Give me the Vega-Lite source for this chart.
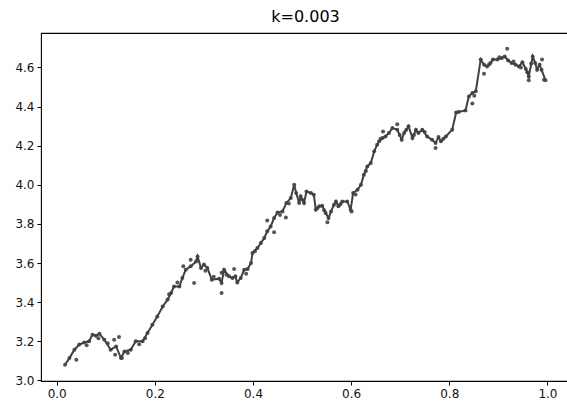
{
  "$schema": "https://vega.github.io/schema/vega-lite/v6.json",
  "autosize": "none",
  "width": 529,
  "height": 348,
  "padding": {"left": 41, "top": 33, "right": 0, "bottom": 24},
  "background": "white",
  "config": {
    "view": {"stroke": "#000000", "strokeWidth": 1.1},
    "font": "DejaVu Sans",
    "axis": {
      "grid": false,
      "domain": false,
      "tickColor": "#000000",
      "tickSize": 4,
      "tickWidth": 1,
      "labelFont": "DejaVu Sans",
      "labelFontSize": 12,
      "labelColor": "#111111",
      "labelPadding": 3,
      "title": null
    }
  },
  "title": {
    "text": "k=0.003",
    "font": "DejaVu Sans",
    "fontSize": 16,
    "fontWeight": "normal",
    "color": "#000000",
    "anchor": "middle",
    "offset": 8
  },
  "datasets": {
    "line": [
      {"x":0.017,"y":3.080},{"x":0.026,"y":3.114},{"x":0.036,"y":3.157},{"x":0.046,"y":3.183},{"x":0.056,"y":3.194},{"x":0.066,"y":3.200},{"x":0.073,"y":3.234},{"x":0.080,"y":3.228},{"x":0.087,"y":3.239},{"x":0.097,"y":3.208},
      {"x":0.110,"y":3.157},{"x":0.121,"y":3.174},{"x":0.131,"y":3.114},{"x":0.138,"y":3.148},{"x":0.151,"y":3.157},{"x":0.161,"y":3.200},{"x":0.175,"y":3.200},{"x":0.185,"y":3.242},{"x":0.195,"y":3.285},{"x":0.205,"y":3.327},
      {"x":0.216,"y":3.378},{"x":0.226,"y":3.413},{"x":0.233,"y":3.447},{"x":0.239,"y":3.480},{"x":0.250,"y":3.480},{"x":0.256,"y":3.523},{"x":0.263,"y":3.566},{"x":0.273,"y":3.583},{"x":0.284,"y":3.608},{"x":0.287,"y":3.634},
      {"x":0.294,"y":3.575},{"x":0.300,"y":3.592},{"x":0.307,"y":3.575},{"x":0.316,"y":3.515},{"x":0.331,"y":3.520},{"x":0.336,"y":3.498},{"x":0.341,"y":3.566},{"x":0.351,"y":3.532},{"x":0.358,"y":3.523},{"x":0.364,"y":3.532},
      {"x":0.368,"y":3.501},{"x":0.375,"y":3.523},{"x":0.382,"y":3.566},{"x":0.389,"y":3.569},{"x":0.396,"y":3.600},{"x":0.399,"y":3.651},{"x":0.409,"y":3.677},{"x":0.416,"y":3.702},{"x":0.423,"y":3.728},{"x":0.429,"y":3.762},
      {"x":0.436,"y":3.787},{"x":0.443,"y":3.830},{"x":0.450,"y":3.859},{"x":0.460,"y":3.864},{"x":0.468,"y":3.907},{"x":0.477,"y":3.932},{"x":0.484,"y":4.000},{"x":0.488,"y":3.958},{"x":0.494,"y":3.907},{"x":0.497,"y":3.941},
      {"x":0.504,"y":3.907},{"x":0.509,"y":3.966},{"x":0.518,"y":3.958},{"x":0.524,"y":3.949},{"x":0.528,"y":3.873},{"x":0.535,"y":3.890},{"x":0.541,"y":3.893},{"x":0.548,"y":3.856},{"x":0.554,"y":3.830},{"x":0.559,"y":3.864},
      {"x":0.565,"y":3.898},{"x":0.569,"y":3.915},{"x":0.574,"y":3.890},{"x":0.582,"y":3.915},{"x":0.592,"y":3.915},{"x":0.599,"y":3.873},{"x":0.604,"y":3.958},{"x":0.613,"y":3.975},{"x":0.620,"y":4.000},{"x":0.626,"y":4.052},
      {"x":0.633,"y":4.094},{"x":0.640,"y":4.111},{"x":0.647,"y":4.171},{"x":0.653,"y":4.205},{"x":0.657,"y":4.222},{"x":0.664,"y":4.239},{"x":0.670,"y":4.247},{"x":0.677,"y":4.265},{"x":0.684,"y":4.290},{"x":0.694,"y":4.282},
      {"x":0.703,"y":4.230},{"x":0.708,"y":4.265},{"x":0.717,"y":4.299},{"x":0.725,"y":4.239},{"x":0.732,"y":4.282},{"x":0.737,"y":4.265},{"x":0.745,"y":4.282},{"x":0.755,"y":4.247},{"x":0.765,"y":4.230},{"x":0.772,"y":4.214},
      {"x":0.778,"y":4.244},{"x":0.783,"y":4.222},{"x":0.793,"y":4.247},{"x":0.806,"y":4.282},{"x":0.814,"y":4.370},{"x":0.823,"y":4.375},{"x":0.833,"y":4.380},{"x":0.840,"y":4.452},{"x":0.847,"y":4.469},{"x":0.854,"y":4.478},
      {"x":0.864,"y":4.640},{"x":0.871,"y":4.614},{"x":0.877,"y":4.605},{"x":0.884,"y":4.623},{"x":0.889,"y":4.640},{"x":0.898,"y":4.640},{"x":0.907,"y":4.648},{"x":0.913,"y":4.656},{"x":0.920,"y":4.636},{"x":0.927,"y":4.623},
      {"x":0.935,"y":4.614},{"x":0.942,"y":4.605},{"x":0.949,"y":4.626},{"x":0.956,"y":4.592},{"x":0.962,"y":4.554},{"x":0.970,"y":4.656},{"x":0.975,"y":4.623},{"x":0.979,"y":4.588},{"x":0.984,"y":4.614},{"x":0.988,"y":4.588},
      {"x":0.996,"y":4.535}
    ],
    "pts": [
      {"x":0.017,"y":3.080},{"x":0.026,"y":3.114},{"x":0.036,"y":3.157},{"x":0.046,"y":3.183},{"x":0.056,"y":3.194},{"x":0.066,"y":3.200},{"x":0.073,"y":3.234},{"x":0.080,"y":3.228},{"x":0.087,"y":3.239},{"x":0.097,"y":3.208},
      {"x":0.110,"y":3.157},{"x":0.121,"y":3.174},{"x":0.131,"y":3.114},{"x":0.138,"y":3.148},{"x":0.151,"y":3.157},{"x":0.161,"y":3.200},{"x":0.175,"y":3.200},{"x":0.185,"y":3.242},{"x":0.195,"y":3.285},{"x":0.205,"y":3.327},
      {"x":0.216,"y":3.378},{"x":0.226,"y":3.413},{"x":0.233,"y":3.447},{"x":0.239,"y":3.480},{"x":0.250,"y":3.480},{"x":0.256,"y":3.523},{"x":0.263,"y":3.566},{"x":0.273,"y":3.583},{"x":0.284,"y":3.608},{"x":0.287,"y":3.634},
      {"x":0.294,"y":3.575},{"x":0.300,"y":3.592},{"x":0.307,"y":3.575},{"x":0.316,"y":3.515},{"x":0.331,"y":3.520},{"x":0.336,"y":3.498},{"x":0.341,"y":3.566},{"x":0.351,"y":3.532},{"x":0.358,"y":3.523},{"x":0.364,"y":3.532},
      {"x":0.368,"y":3.501},{"x":0.375,"y":3.523},{"x":0.382,"y":3.566},{"x":0.389,"y":3.569},{"x":0.396,"y":3.600},{"x":0.399,"y":3.651},{"x":0.409,"y":3.677},{"x":0.416,"y":3.702},{"x":0.423,"y":3.728},{"x":0.429,"y":3.762},
      {"x":0.436,"y":3.787},{"x":0.443,"y":3.830},{"x":0.450,"y":3.859},{"x":0.460,"y":3.864},{"x":0.468,"y":3.907},{"x":0.477,"y":3.932},{"x":0.484,"y":4.000},{"x":0.488,"y":3.958},{"x":0.494,"y":3.907},{"x":0.497,"y":3.941},
      {"x":0.504,"y":3.907},{"x":0.509,"y":3.966},{"x":0.518,"y":3.958},{"x":0.524,"y":3.949},{"x":0.528,"y":3.873},{"x":0.535,"y":3.890},{"x":0.541,"y":3.893},{"x":0.548,"y":3.856},{"x":0.554,"y":3.830},{"x":0.559,"y":3.864},
      {"x":0.565,"y":3.898},{"x":0.569,"y":3.915},{"x":0.574,"y":3.890},{"x":0.582,"y":3.915},{"x":0.592,"y":3.915},{"x":0.599,"y":3.873},{"x":0.604,"y":3.958},{"x":0.613,"y":3.975},{"x":0.620,"y":4.000},{"x":0.626,"y":4.052},
      {"x":0.633,"y":4.094},{"x":0.640,"y":4.111},{"x":0.647,"y":4.171},{"x":0.653,"y":4.205},{"x":0.657,"y":4.222},{"x":0.664,"y":4.239},{"x":0.670,"y":4.247},{"x":0.677,"y":4.265},{"x":0.684,"y":4.290},{"x":0.694,"y":4.282},
      {"x":0.703,"y":4.230},{"x":0.708,"y":4.265},{"x":0.717,"y":4.299},{"x":0.725,"y":4.239},{"x":0.732,"y":4.282},{"x":0.737,"y":4.265},{"x":0.745,"y":4.282},{"x":0.755,"y":4.247},{"x":0.765,"y":4.230},{"x":0.772,"y":4.214},
      {"x":0.778,"y":4.244},{"x":0.783,"y":4.222},{"x":0.793,"y":4.247},{"x":0.806,"y":4.282},{"x":0.814,"y":4.370},{"x":0.833,"y":4.380},{"x":0.840,"y":4.452},{"x":0.847,"y":4.469},{"x":0.854,"y":4.478},
      {"x":0.864,"y":4.640},{"x":0.871,"y":4.614},{"x":0.877,"y":4.605},{"x":0.884,"y":4.623},{"x":0.889,"y":4.640},{"x":0.898,"y":4.640},{"x":0.907,"y":4.648},{"x":0.913,"y":4.656},{"x":0.920,"y":4.636},{"x":0.927,"y":4.623},
      {"x":0.935,"y":4.614},{"x":0.942,"y":4.605},{"x":0.949,"y":4.626},{"x":0.956,"y":4.592},{"x":0.962,"y":4.554},{"x":0.970,"y":4.656},{"x":0.975,"y":4.623},{"x":0.979,"y":4.588},{"x":0.984,"y":4.614},{"x":0.988,"y":4.588},
      {"x":0.996,"y":4.535},
      {"x":0.040,"y":3.106},{"x":0.127,"y":3.222},{"x":0.117,"y":3.208},{"x":0.119,"y":3.131},{"x":0.133,"y":3.114},{"x":0.280,"y":3.498},{"x":0.258,"y":3.583},{"x":0.273,"y":3.617},
      {"x":0.336,"y":3.447},{"x":0.336,"y":3.550},{"x":0.3615,"y":3.570},{"x":0.429,"y":3.818},{"x":0.443,"y":3.757},{"x":0.467,"y":3.833},{"x":0.5516,"y":3.808},{"x":0.601,"y":3.864},
      {"x":0.665,"y":4.273},{"x":0.694,"y":4.310},{"x":0.772,"y":4.188},{"x":0.847,"y":4.415},{"x":0.8707,"y":4.568},{"x":0.918,"y":4.696},{"x":0.962,"y":4.534},{"x":0.989,"y":4.640},{"x":0.993,"y":4.537},
      {"x":0.061,"y":3.180},{"x":0.085,"y":3.215},{"x":0.104,"y":3.190},{"x":0.145,"y":3.140},{"x":0.168,"y":3.185},{"x":0.180,"y":3.215},{"x":0.229,"y":3.440},{"x":0.246,"y":3.500},
      {"x":0.303,"y":3.560},{"x":0.320,"y":3.530},{"x":0.346,"y":3.540},{"x":0.386,"y":3.545},{"x":0.404,"y":3.660},{"x":0.455,"y":3.845},{"x":0.473,"y":3.905},{"x":0.500,"y":3.925},
      {"x":0.531,"y":3.880},{"x":0.545,"y":3.870},{"x":0.578,"y":3.900},{"x":0.609,"y":3.950},{"x":0.630,"y":4.070},{"x":0.660,"y":4.235},{"x":0.699,"y":4.255},{"x":0.712,"y":4.280},
      {"x":0.728,"y":4.255},{"x":0.750,"y":4.270},{"x":0.788,"y":4.235},{"x":0.819,"y":4.372},{"x":0.851,"y":4.455},{"x":0.881,"y":4.615},{"x":0.902,"y":4.652},{"x":0.931,"y":4.630},
      {"x":0.946,"y":4.600},{"x":0.959,"y":4.575},{"x":0.967,"y":4.620}
    ]
  },
  "layer": [
    {
      "data": {"name": "pts"},
      "mark": {"type": "circle", "size": 16, "color": "#555555", "opacity": 1},
      "encoding": {
        "x": {"field": "x", "type": "quantitative", "scale": {"domain": [-0.032, 1.046], "nice": false, "zero": false}, "axis": {"values": [0, 0.2, 0.4, 0.6, 0.8, 1.0], "format": ".1f"}},
        "y": {"field": "y", "type": "quantitative", "scale": {"domain": [2.997, 4.776], "nice": false, "zero": false}, "axis": {"values": [3.0, 3.2, 3.4, 3.6, 3.8, 4.0, 4.2, 4.4, 4.6], "format": ".1f"}}
      }
    },
    {
      "data": {"name": "line"},
      "mark": {"type": "line", "color": "#404040", "strokeWidth": 2},
      "encoding": {
        "x": {"field": "x", "type": "quantitative"},
        "y": {"field": "y", "type": "quantitative"}
      }
    }
  ]
}
